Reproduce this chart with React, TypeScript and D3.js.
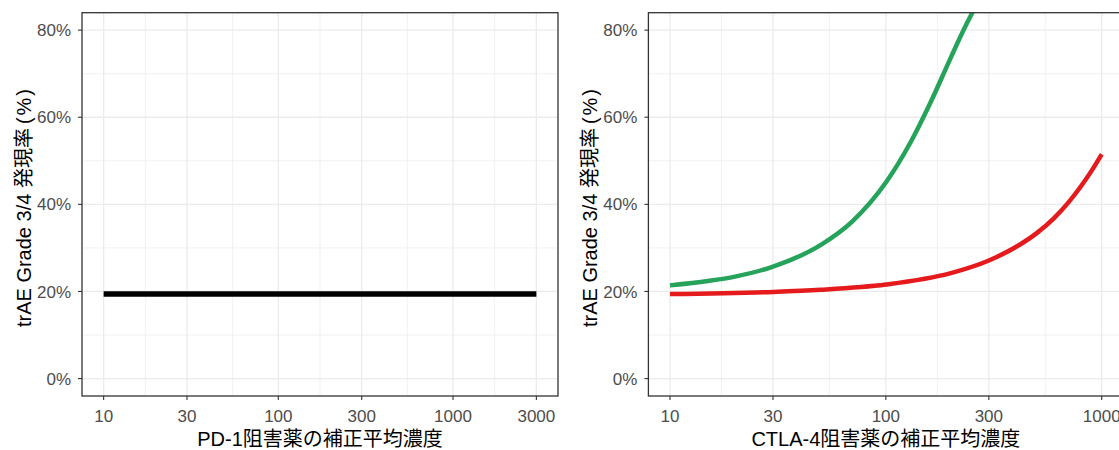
import React from "react";
import * as d3 from "d3";

// ---- data ----
const xBreaksPD1 = [10, 30, 100, 300, 1000, 3000];
const xBreaksCTLA4 = [10, 30, 100, 300, 1000];
const yBreaks = [0, 0.2, 0.4, 0.6, 0.8];
const yMinor = [0.1, 0.3, 0.5, 0.7];

const pd1Conc = [10, 3000];
const pd1Rate = [0.194, 0.194];

const greenConc = [10, 15, 20, 30, 50, 70, 100, 130, 160, 200, 230, 260];
const greenRate = [0.214, 0.224, 0.234, 0.257, 0.307, 0.361, 0.45, 0.542, 0.631, 0.737, 0.802, 0.854];

const redConc = [10, 30, 50, 100, 200, 300, 400, 500, 600, 700, 800, 900, 1000];
const redRate = [0.194, 0.199, 0.204, 0.216, 0.242, 0.271, 0.302, 0.334, 0.368, 0.404, 0.441, 0.478, 0.515];

const yTitleMain = "trAE Grade 3/4 発現率";
const yTitleUnit = ["(", "%", ")"];
const xTitlePD1 = "PD-1阻害薬の補正平均濃度";
const xTitleCTLA4 = "CTLA-4阻害薬の補正平均濃度";

const FONT = "'Liberation Sans', Arial, 'Noto Sans CJK JP', sans-serif";
const GRID = "#EBEBEB";
const AX = "#333333";
const TXT = "#4D4D4D";

type Series = { x: number[]; y: number[]; color: string; width: number };

function Panel(props: {
  id: string;
  left: number;
  right: number;
  breaks: number[];
  xTitle: string;
  series: Series[];
}) {
  const { id, left, right, breaks, xTitle, series } = props;
  const top = 12.7;
  const bottom = 396;
  const lo = Math.log10(breaks[0]);
  const hi = Math.log10(breaks[breaks.length - 1]);
  const ex = (hi - lo) * 0.05;
  const x = d3
    .scaleLog()
    .domain([Math.pow(10, lo - ex), Math.pow(10, hi + ex)])
    .range([left, right]);
  const y = d3.scaleLinear().domain([-0.04, 0.84]).range([bottom, top]);
  const xMinor = breaks.slice(0, -1).map((b, i) => Math.sqrt(b * breaks[i + 1]));
  const fmtPct = (v: number) => `${Math.round(v * 100)}%`;
  const line = d3
    .line<[number, number]>()
    .x((d) => x(d[0]))
    .y((d) => y(d[1]))
    .curve(d3.curveMonotoneX);
  return (
    <g>
      <defs>
        <clipPath id={id}>
          <rect x={left} y={top} width={right - left} height={bottom - top} />
        </clipPath>
      </defs>
      <rect x={left} y={top} width={right - left} height={bottom - top} fill="white" />
      {yMinor.map((v) => (
        <line key={"ym" + v} x1={left} x2={right} y1={y(v)} y2={y(v)} stroke={GRID} strokeWidth={0.7} />
      ))}
      {xMinor.map((v) => (
        <line key={"xm" + v} x1={x(v)} x2={x(v)} y1={top} y2={bottom} stroke={GRID} strokeWidth={0.7} />
      ))}
      {yBreaks.map((v) => (
        <line key={"yg" + v} x1={left} x2={right} y1={y(v)} y2={y(v)} stroke={GRID} strokeWidth={1.3} />
      ))}
      {breaks.map((v) => (
        <line key={"xg" + v} x1={x(v)} x2={x(v)} y1={top} y2={bottom} stroke={GRID} strokeWidth={1.3} />
      ))}
      <g clipPath={`url(#${id})`}>
        {series.map((s, i) => (
          <path
            key={i}
            d={line(s.x.map((xv, j) => [xv, s.y[j]] as [number, number])) || ""}
            fill="none"
            stroke={s.color}
            strokeWidth={s.width}
          />
        ))}
      </g>
      <rect x={left} y={top} width={right - left} height={bottom - top} fill="none" stroke={AX} strokeWidth={1.3} />
      {yBreaks.map((v) => (
        <g key={"yt" + v}>
          <line x1={left - 4} x2={left} y1={y(v)} y2={y(v)} stroke={AX} strokeWidth={1.1} />
          <text x={left - 11} y={y(v)} dy="0.36em" textAnchor="end" fontSize={17} fill={TXT} fontFamily={FONT}>
            {fmtPct(v)}
          </text>
        </g>
      ))}
      {breaks.map((v) => (
        <g key={"xt" + v}>
          <line x1={x(v)} x2={x(v)} y1={bottom} y2={bottom + 4} stroke={AX} strokeWidth={1.1} />
          <text x={x(v)} y={bottom + 26} textAnchor="middle" fontSize={17} fill={TXT} fontFamily={FONT}>
            {v}
          </text>
        </g>
      ))}
      <text x={(left + right) / 2} y={446} textAnchor="middle" fontSize={20} fill="black" fontFamily={FONT}>
        {xTitle}
      </text>
      <text
        transform={`translate(${left - 51},${208}) rotate(-90)`}
        textAnchor="middle"
        fontSize={20}
        fill="black"
        fontFamily={FONT}
      >
        {yTitleMain}
        <tspan dx={4}>{yTitleUnit[0]}</tspan>
        <tspan dx={2}>{yTitleUnit[1]}</tspan>
        <tspan dx={2}>{yTitleUnit[2]}</tspan>
      </text>
    </g>
  );
}

export default function App() {
  return (
    <div style={{ position: "fixed", left: 0, top: 0, width: 1119, height: 450, background: "white" }}>
      <svg width={1119} height={450} style={{ display: "block" }}>
        <rect width={1119} height={450} fill="white" />
        <Panel
          id="clipL"
          left={82}
          right={558}
          breaks={xBreaksPD1}
          xTitle={xTitlePD1}
          series={[{ x: pd1Conc, y: pd1Rate, color: "#000000", width: 5.5 }]}
        />
        <Panel
          id="clipR"
          left={648.4}
          right={1123.3}
          breaks={xBreaksCTLA4}
          xTitle={xTitleCTLA4}
          series={[
            { x: greenConc, y: greenRate, color: "#25A35A", width: 4.5 },
            { x: redConc, y: redRate, color: "#E41A1C", width: 4.5 },
          ]}
        />
      </svg>
    </div>
  );
}
